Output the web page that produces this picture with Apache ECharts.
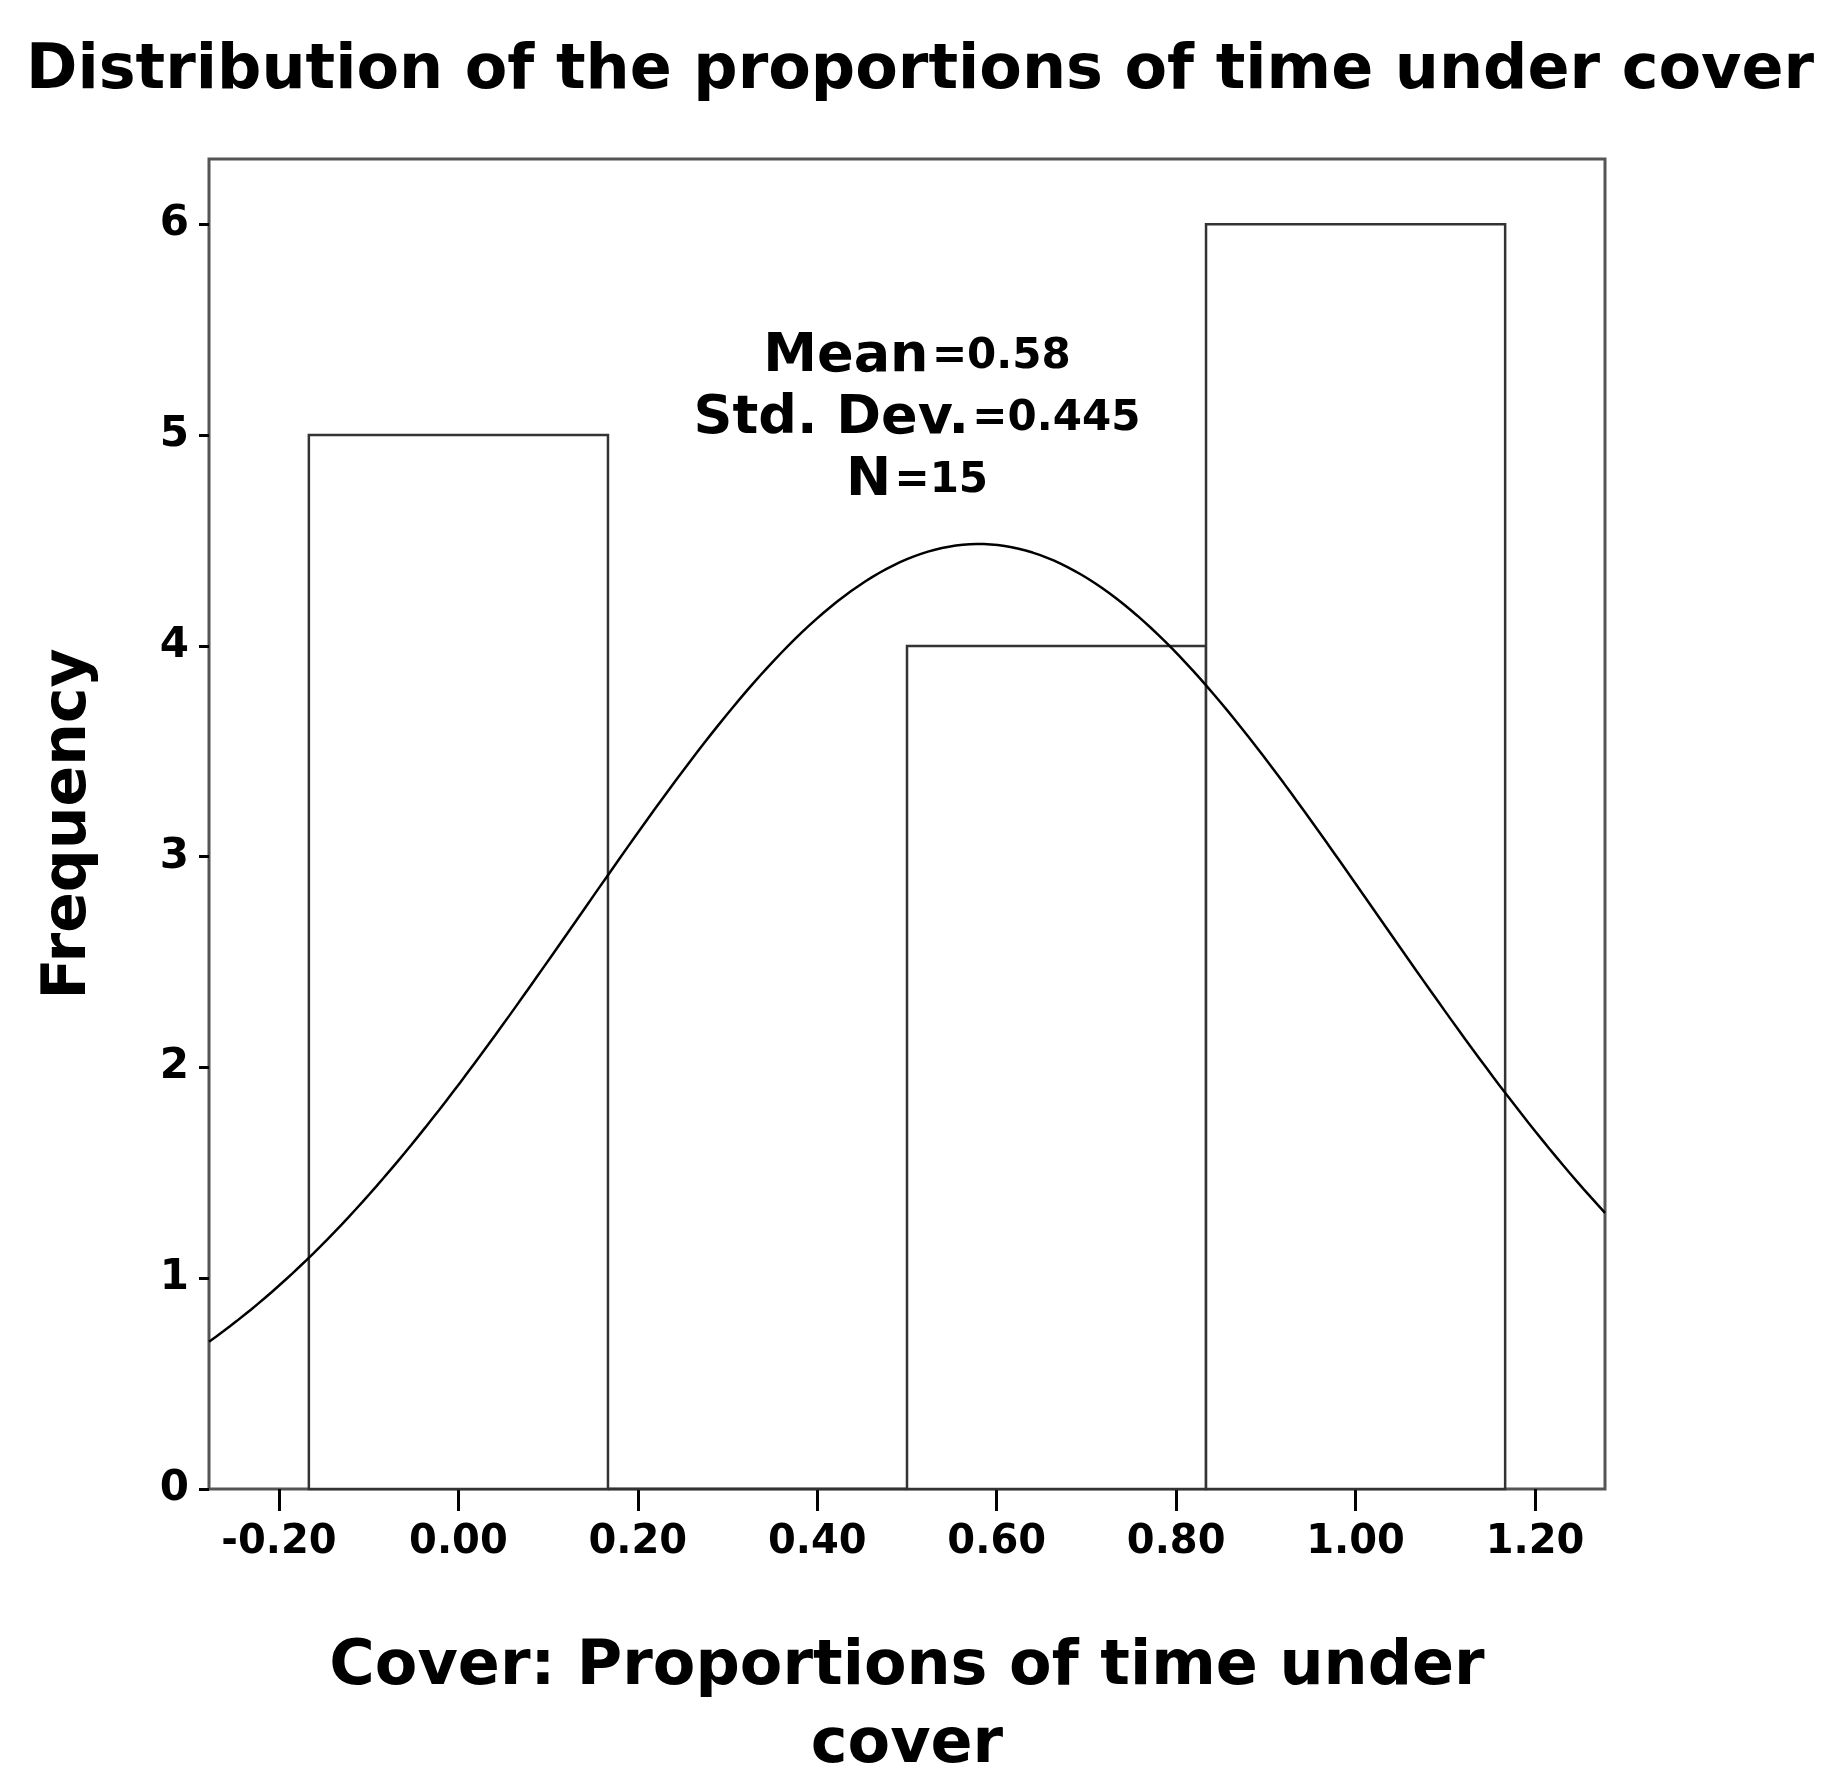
<!DOCTYPE html>
<html>
<head>
<meta charset="utf-8">
<script src="https://cdn.jsdelivr.net/npm/echarts@6/dist/echarts.min.js"></script>
<style>html,body{margin:0;background:#fff}#c{width:1840px;height:1791px}</style>
</head>
<body>
<div id="c"></div>
<script>
// histogram bins
var binStart = [-0.1667, 0.1667, 0.5, 0.8333]
var binEnd = [0.1667, 0.5, 0.8333, 1.1667]
var counts = [5, 0, 4, 6]
var xTicks = [-0.2, 0, 0.2, 0.4, 0.6, 0.8, 1.0, 1.2]
var yTicks = [0, 1, 2, 3, 4, 5, 6]
var mean = 0.58, sd = 0.445, n = 15

var binW = binEnd[0] - binStart[0]
var xMin = -0.278, xMax = 1.278
var curve = []
for (var i = 0; i <= 200; i++) {
  var x = xMin + (xMax - xMin) * i / 200
  var z = (x - mean) / sd
  curve.push([x, n * binW * Math.exp(-z * z / 2) / (sd * Math.sqrt(2 * Math.PI))])
}
var bars = binStart.map(function (s, i) { return [s, binEnd[i], counts[i]] })

var font = '"DejaVu Sans", Verdana, sans-serif'
var chart = echarts.init(document.getElementById('c'))
chart.setOption({
  animation: false,
  title: {
    text: 'Distribution of the proportions of time under cover',
    left: 'center', top: 36,
    textStyle: { fontFamily: font, fontSize: 62, fontWeight: 'bold', color: '#000' }
  },
  grid: { left: 209, right: 235, top: 159, bottom: 302, show: true, borderColor: '#555', borderWidth: 3, backgroundColor: '#fff' },
  xAxis: {
    type: 'value', min: xMin, max: xMax,
    name: 'Cover: Proportions of time under\ncover', nameLocation: 'middle', nameGap: 140,
    nameTextStyle: { fontFamily: font, fontSize: 62, fontWeight: 'bold', color: '#000', lineHeight: 78 },
    axisLine: { show: false, onZero: false },
    splitLine: { show: false },
    axisTick: { customValues: xTicks, length: 22, lineStyle: { color: '#000', width: 3 } },
    axisLabel: { customValues: xTicks, margin: 34, fontFamily: font, fontSize: 40, fontWeight: 'bold', color: '#000',
      formatter: function (v) { return v.toFixed(2) } }
  },
  yAxis: {
    type: 'value', min: 0, max: 6.31,
    name: 'Frequency', nameLocation: 'middle', nameGap: 110,
    nameTextStyle: { fontFamily: font, fontSize: 60, fontWeight: 'bold', color: '#000' },
    axisLine: { show: false, onZero: false },
    splitLine: { show: false },
    axisTick: { customValues: yTicks, length: 10, lineStyle: { color: '#000', width: 3 } },
    axisLabel: { customValues: yTicks, margin: 20, fontFamily: font, fontSize: 42, fontWeight: 'bold', color: '#000' }
  },
  series: [
    {
      type: 'custom',
      data: bars,
      renderItem: function (params, api) {
        var p0 = api.coord([api.value(0), api.value(2)])
        var p1 = api.coord([api.value(1), 0])
        return { type: 'rect', shape: { x: p0[0], y: p0[1], width: p1[0] - p0[0], height: p1[1] - p0[1] },
          style: { fill: '#fff', stroke: '#333', lineWidth: 2.5 } }
      },
      encode: { x: [0, 1], y: 2 }
    },
    {
      type: 'line', data: curve, showSymbol: false, smooth: false,
      lineStyle: { color: '#000', width: 2.5 }, z: 5
    }
  ],
  graphic: [{
    type: 'text', x: 917, y: 326, z: 100,
    style: {
      text: '{b|Mean} {n|=0.58}\n{b|Std. Dev.} {n|=0.445}\n{b|N} {n|=15}',
      align: 'center', fill: '#000',
      rich: {
        b: { fontFamily: font, fontSize: 54, fontWeight: 'bold', lineHeight: 62 },
        n: { fontFamily: font, fontSize: 42, fontWeight: 'bold', lineHeight: 62 }
      }
    }
  }]
})
</script>
</body>
</html>
